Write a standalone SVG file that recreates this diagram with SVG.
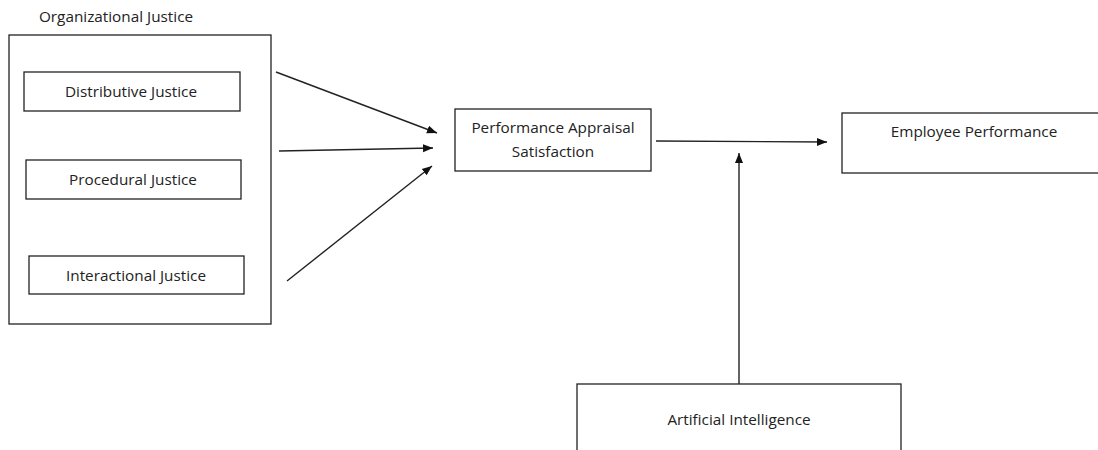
<svg xmlns="http://www.w3.org/2000/svg" width="1098" height="450" viewBox="0 0 1098 450">
<style>
.box{fill:#fff;stroke:#222;stroke-width:1.3}
.t{font-family:"Open Sans","Liberation Sans",sans-serif;font-size:15.3px;fill:#222;text-anchor:middle}
.c{stroke:#222;stroke-width:1.4;fill:none;marker-end:url(#ah)}
</style>
<defs>
<marker id="ah" viewBox="0 0 10 10" refX="10" refY="5" markerWidth="10" markerHeight="10" markerUnits="userSpaceOnUse" orient="auto">
<path d="M0,1 L10,5 L0,9 z" fill="#111"/>
</marker>
</defs>
<rect width="1098" height="450" fill="#fff"/>
<g id="organizational-justice">
<rect class="box" x="9" y="35" width="262" height="289"/>
<text class="t" x="116" y="22">Organizational Justice</text>
</g>
<g id="distributive-justice">
<rect class="box" x="24" y="72" width="216" height="39"/>
<text class="t" x="131" y="97">Distributive Justice</text>
</g>
<g id="procedural-justice">
<rect class="box" x="26" y="160" width="215" height="39"/>
<text class="t" x="133" y="185">Procedural Justice</text>
</g>
<g id="interactional-justice">
<rect class="box" x="29" y="256" width="215" height="38"/>
<text class="t" x="136" y="281">Interactional Justice</text>
</g>
<g id="performance-appraisal-satisfaction">
<rect class="box" x="455" y="109" width="196" height="62"/>
<text class="t" x="553" y="133">Performance Appraisal</text>
<text class="t" x="553" y="157">Satisfaction</text>
</g>
<g id="employee-performance">
<rect class="box" x="842" y="113" width="258" height="60"/>
<text class="t" x="974" y="137">Employee Performance</text>
</g>
<g id="artificial-intelligence">
<rect class="box" x="577" y="384" width="324" height="80"/>
<text class="t" x="739" y="425">Artificial Intelligence</text>
</g>
<g id="connectors">
<line class="c" x1="276" y1="72" x2="437" y2="133"/>
<line class="c" x1="279" y1="151" x2="433" y2="148"/>
<line class="c" x1="287" y1="281" x2="432" y2="166"/>
<line class="c" x1="656" y1="141" x2="827" y2="142"/>
<line class="c" x1="739" y1="384" x2="739" y2="153"/>
</g>
</svg>
